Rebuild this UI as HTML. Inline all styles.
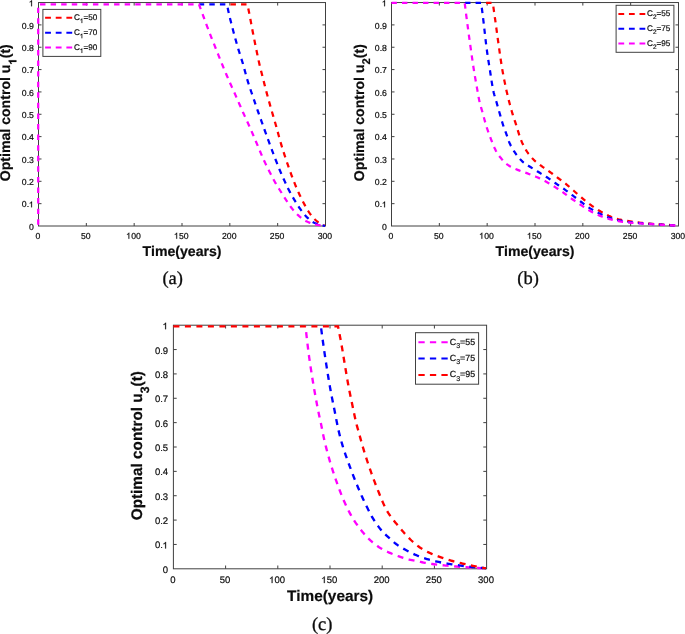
<!DOCTYPE html>
<html><head><meta charset="utf-8"><title>Optimal control</title>
<style>
html,body{margin:0;padding:0;background:#fff;}
body{width:685px;height:634px;overflow:hidden;font-family:"Liberation Sans",sans-serif;}
svg{display:block;font-family:"Liberation Sans",sans-serif;will-change:transform;}
text{stroke:#0c0c0c;stroke-width:0.2px;text-rendering:geometricPrecision;font-kerning:none;}
.cap{font-family:"Liberation Serif",serif;stroke-width:0.3px;}
</style></head><body>
<svg width="685" height="634" viewBox="0 0 685 634">
<rect width="685" height="634" fill="#fff"/>
<rect x="38.5" y="2.55" width="287.0" height="223.45" fill="none" stroke="#404040" stroke-width="1"/>
<text x="35.48" y="238.70" font-size="8.70" font-weight="normal" fill="#0c0c0c">0</text>
<text x="80.89" y="238.70" font-size="8.70" font-weight="normal" fill="#0c0c0c">50</text>
<path d="M696 0H516V1098Q451 1039 345.5 979Q240 920 156 890V1057Q307 1125 420 1221Q533 1318 580 1409H696Z" transform="translate(126.31,238.70) scale(0.00425,-0.00425)" fill="#0c0c0c" stroke="#0c0c0c" stroke-width="47.1"/><text x="131.15" y="238.70" font-size="8.70" font-weight="normal" fill="#0c0c0c">00</text>
<path d="M696 0H516V1098Q451 1039 345.5 979Q240 920 156 890V1057Q307 1125 420 1221Q533 1318 580 1409H696Z" transform="translate(174.14,238.70) scale(0.00425,-0.00425)" fill="#0c0c0c" stroke="#0c0c0c" stroke-width="47.1"/><text x="178.98" y="238.70" font-size="8.70" font-weight="normal" fill="#0c0c0c">50</text>
<text x="221.98" y="238.70" font-size="8.70" font-weight="normal" fill="#0c0c0c">200</text>
<text x="269.81" y="238.70" font-size="8.70" font-weight="normal" fill="#0c0c0c">250</text>
<text x="317.64" y="238.70" font-size="8.70" font-weight="normal" fill="#0c0c0c">300</text>
<text x="29.06" y="229.71" font-size="8.70" font-weight="normal" fill="#0c0c0c">0</text>
<text x="21.81" y="207.37" font-size="8.70" font-weight="normal" fill="#0c0c0c">0.</text><path d="M696 0H516V1098Q451 1039 345.5 979Q240 920 156 890V1057Q307 1125 420 1221Q533 1318 580 1409H696Z" transform="translate(29.06,207.37) scale(0.00425,-0.00425)" fill="#0c0c0c" stroke="#0c0c0c" stroke-width="47.1"/>
<text x="21.81" y="185.02" font-size="8.70" font-weight="normal" fill="#0c0c0c">0.2</text>
<text x="21.81" y="162.68" font-size="8.70" font-weight="normal" fill="#0c0c0c">0.3</text>
<text x="21.81" y="140.33" font-size="8.70" font-weight="normal" fill="#0c0c0c">0.4</text>
<text x="21.81" y="117.99" font-size="8.70" font-weight="normal" fill="#0c0c0c">0.5</text>
<text x="21.81" y="95.64" font-size="8.70" font-weight="normal" fill="#0c0c0c">0.6</text>
<text x="21.81" y="73.30" font-size="8.70" font-weight="normal" fill="#0c0c0c">0.7</text>
<text x="21.81" y="50.95" font-size="8.70" font-weight="normal" fill="#0c0c0c">0.8</text>
<text x="21.81" y="28.61" font-size="8.70" font-weight="normal" fill="#0c0c0c">0.9</text>
<path d="M696 0H516V1098Q451 1039 345.5 979Q240 920 156 890V1057Q307 1125 420 1221Q533 1318 580 1409H696Z" transform="translate(29.06,6.26) scale(0.00425,-0.00425)" fill="#0c0c0c" stroke="#0c0c0c" stroke-width="47.1"/>
<path d="M86.33,226.0 v-3.0 M86.33,2.55 v3.0 M134.17,226.0 v-3.0 M134.17,2.55 v3.0 M182.00,226.0 v-3.0 M182.00,2.55 v3.0 M229.83,226.0 v-3.0 M229.83,2.55 v3.0 M277.67,226.0 v-3.0 M277.67,2.55 v3.0 M38.5,203.66 h3.0 M325.5,203.66 h-3.0 M38.5,181.31 h3.0 M325.5,181.31 h-3.0 M38.5,158.97 h3.0 M325.5,158.97 h-3.0 M38.5,136.62 h3.0 M325.5,136.62 h-3.0 M38.5,114.28 h3.0 M325.5,114.28 h-3.0 M38.5,91.93 h3.0 M325.5,91.93 h-3.0 M38.5,69.59 h3.0 M325.5,69.59 h-3.0 M38.5,47.24 h3.0 M325.5,47.24 h-3.0 M38.5,24.90 h3.0 M325.5,24.90 h-3.0" stroke="#404040" stroke-width="1" fill="none"/>
<path d="M227.00,4.35 L247.40,4.35 L247.71,5.81 L248.02,7.27 L248.33,8.73 L248.63,10.20 L248.93,11.66 L249.23,13.12 L249.52,14.59 L249.80,16.06 L250.08,17.52 L250.35,18.99 L250.63,20.46 L250.90,21.93 L251.16,23.40 L251.43,24.87 L251.71,26.34 L251.98,27.80 L252.26,29.27 L252.54,30.74 L252.83,32.20 L253.11,33.67 L253.40,35.14 L253.69,36.60 L253.98,38.07 L254.28,39.53 L254.57,40.99 L254.87,42.46 L255.16,43.92 L255.46,45.39 L255.76,46.85 L256.06,48.31 L256.37,49.78 L256.67,51.24 L256.97,52.70 L257.27,54.16 L257.57,55.63 L257.88,57.09 L258.19,58.55 L258.51,60.01 L258.83,61.47 L259.16,62.93 L259.49,64.38 L259.83,65.83 L260.18,67.29 L260.53,68.74 L260.89,70.19 L261.26,71.64 L261.63,73.08 L262.00,74.53 L262.37,75.98 L262.74,77.42 L263.11,78.87 L263.48,80.32 L263.85,81.77 L264.21,83.21 L264.58,84.66 L264.95,86.11 L265.32,87.56 L265.69,89.00 L266.06,90.45 L266.44,91.90 L266.82,93.34 L267.21,94.78 L267.60,96.22 L267.99,97.66 L268.39,99.11 L268.79,100.54 L269.19,101.98 L269.59,103.42 L270.00,104.86 L270.40,106.30 L270.81,107.73 L271.22,109.17 L271.63,110.61 L272.04,112.04 L272.46,113.48 L272.87,114.91 L273.29,116.34 L273.72,117.78 L274.14,119.21 L274.56,120.64 L274.98,122.08 L275.40,123.51 L275.81,124.95 L276.22,126.38 L276.63,127.82 L277.02,129.26 L277.41,130.70 L277.80,132.14 L278.19,133.59 L278.57,135.03 L278.96,136.47 L279.35,137.92 L279.75,139.36 L280.15,140.79 L280.56,142.23 L280.98,143.66 L281.41,145.09 L281.84,146.52 L282.28,147.95 L282.73,149.37 L283.18,150.80 L283.64,152.22 L284.10,153.64 L284.56,155.06 L285.03,156.48 L285.50,157.90 L285.97,159.32 L286.44,160.73 L286.92,162.15 L287.40,163.56 L287.88,164.98 L288.36,166.39 L288.85,167.80 L289.34,169.21 L289.84,170.62 L290.35,172.03 L290.86,173.43 L291.37,174.83 L291.90,176.23 L292.43,177.63 L292.96,179.02 L293.50,180.42 L294.05,181.81 L294.60,183.20 L295.16,184.58 L295.72,185.97 L296.30,187.35 L296.88,188.72 L297.48,190.09 L298.08,191.45 L298.69,192.82 L299.31,194.17 L299.94,195.53 L300.58,196.88 L301.24,198.23 L301.90,199.57 L302.58,200.90 L303.27,202.22 L303.97,203.54 L304.68,204.85 L305.40,206.17 L306.13,207.48 L306.88,208.79 L307.65,210.08 L308.44,211.35 L309.26,212.59 L310.11,213.80 L310.99,214.98 L311.93,216.15 L312.91,217.29 L313.92,218.41 L314.97,219.48 L316.05,220.51 L317.16,221.49 L318.33,222.45 L319.55,223.34 L320.82,224.11 L322.15,224.73 L323.54,225.27 L325.00,225.70" stroke="#ff0000" stroke-width="2.25" stroke-dasharray="5.45 5.13" stroke-dashoffset="7.11" fill="none" stroke-linejoin="miter"/>
<path d="M199.00,4.35 L227.00,4.35 L227.28,5.82 L227.57,7.28 L227.87,8.74 L228.17,10.20 L228.48,11.66 L228.80,13.12 L229.13,14.57 L229.46,16.03 L229.81,17.48 L230.16,18.93 L230.52,20.38 L230.88,21.82 L231.25,23.27 L231.62,24.72 L231.99,26.16 L232.37,27.60 L232.75,29.05 L233.13,30.49 L233.51,31.93 L233.90,33.37 L234.28,34.81 L234.67,36.25 L235.07,37.69 L235.47,39.13 L235.87,40.57 L236.27,42.00 L236.68,43.44 L237.09,44.87 L237.50,46.31 L237.92,47.74 L238.35,49.17 L238.78,50.59 L239.23,52.02 L239.68,53.44 L240.14,54.86 L240.59,56.28 L241.05,57.70 L241.50,59.12 L241.95,60.55 L242.39,61.97 L242.82,63.40 L243.24,64.83 L243.65,66.27 L244.04,67.71 L244.43,69.15 L244.81,70.59 L245.19,72.03 L245.58,73.47 L245.96,74.92 L246.35,76.36 L246.76,77.79 L247.17,79.22 L247.60,80.65 L248.04,82.08 L248.49,83.50 L248.95,84.92 L249.42,86.33 L249.89,87.75 L250.37,89.16 L250.84,90.58 L251.32,91.99 L251.80,93.40 L252.28,94.82 L252.75,96.23 L253.23,97.65 L253.71,99.06 L254.19,100.47 L254.68,101.88 L255.16,103.29 L255.65,104.70 L256.13,106.11 L256.62,107.52 L257.11,108.93 L257.60,110.34 L258.10,111.75 L258.59,113.16 L259.09,114.56 L259.59,115.97 L260.08,117.37 L260.58,118.78 L261.09,120.19 L261.59,121.59 L262.09,122.99 L262.60,124.40 L263.10,125.80 L263.61,127.21 L264.11,128.61 L264.62,130.01 L265.12,131.42 L265.63,132.82 L266.13,134.22 L266.64,135.63 L267.15,137.03 L267.66,138.43 L268.17,139.83 L268.68,141.23 L269.20,142.63 L269.72,144.03 L270.23,145.43 L270.75,146.83 L271.28,148.23 L271.80,149.63 L272.32,151.02 L272.85,152.42 L273.37,153.82 L273.90,155.21 L274.43,156.60 L274.97,158.00 L275.50,159.39 L276.04,160.78 L276.59,162.17 L277.13,163.56 L277.68,164.94 L278.24,166.33 L278.79,167.71 L279.36,169.10 L279.93,170.47 L280.51,171.85 L281.09,173.22 L281.69,174.59 L282.29,175.95 L282.90,177.32 L283.51,178.68 L284.13,180.04 L284.75,181.39 L285.37,182.75 L286.00,184.10 L286.63,185.45 L287.27,186.80 L287.92,188.15 L288.58,189.49 L289.25,190.81 L289.95,192.13 L290.66,193.44 L291.38,194.75 L292.12,196.05 L292.86,197.34 L293.62,198.63 L294.38,199.91 L295.16,201.19 L295.93,202.46 L296.72,203.73 L297.52,204.99 L298.33,206.25 L299.16,207.49 L300.02,208.71 L300.89,209.91 L301.77,211.12 L302.68,212.33 L303.60,213.52 L304.55,214.68 L305.53,215.80 L306.55,216.86 L307.62,217.89 L308.73,218.92 L309.88,219.93 L311.08,220.88 L312.31,221.73 L313.58,222.45 L314.88,223.04 L316.21,223.59 L317.59,224.10 L319.00,224.58 L320.44,225.00 L321.92,225.35 L323.44,225.62 L325.00,225.80" stroke="#0000ff" stroke-width="2.25" stroke-dasharray="5.45 5.13" stroke-dashoffset="0.27" fill="none" stroke-linejoin="miter"/>
<path d="M38.20,224.70 L38.20,4.35 L199.00,4.35 L199.51,5.76 L200.02,7.16 L200.53,8.57 L201.05,9.98 L201.56,11.38 L202.08,12.79 L202.59,14.19 L203.11,15.60 L203.63,17.00 L204.15,18.40 L204.67,19.81 L205.19,21.21 L205.71,22.61 L206.23,24.02 L206.75,25.42 L207.27,26.82 L207.80,28.22 L208.33,29.62 L208.86,31.02 L209.39,32.42 L209.93,33.82 L210.47,35.21 L211.02,36.61 L211.57,38.00 L212.13,39.39 L212.68,40.78 L213.24,42.16 L213.80,43.55 L214.37,44.94 L214.93,46.33 L215.48,47.71 L216.04,49.10 L216.60,50.49 L217.15,51.88 L217.70,53.28 L218.25,54.67 L218.81,56.06 L219.36,57.45 L219.91,58.84 L220.47,60.23 L221.03,61.62 L221.59,63.00 L222.16,64.39 L222.73,65.77 L223.30,67.16 L223.87,68.54 L224.45,69.92 L225.02,71.30 L225.60,72.68 L226.19,74.06 L226.77,75.44 L227.36,76.81 L227.95,78.19 L228.55,79.56 L229.15,80.93 L229.76,82.30 L230.37,83.67 L230.98,85.03 L231.59,86.40 L232.21,87.76 L232.82,89.13 L233.44,90.49 L234.05,91.86 L234.66,93.22 L235.26,94.59 L235.86,95.96 L236.46,97.34 L237.06,98.71 L237.66,100.08 L238.25,101.45 L238.85,102.83 L239.44,104.20 L240.04,105.57 L240.64,106.94 L241.24,108.32 L241.84,109.69 L242.45,111.05 L243.06,112.42 L243.67,113.78 L244.29,115.15 L244.92,116.51 L245.54,117.87 L246.17,119.23 L246.79,120.59 L247.42,121.95 L248.04,123.31 L248.66,124.67 L249.27,126.04 L249.88,127.40 L250.48,128.77 L251.08,130.14 L251.67,131.52 L252.26,132.89 L252.85,134.27 L253.43,135.65 L254.01,137.03 L254.59,138.41 L255.18,139.79 L255.76,141.16 L256.35,142.54 L256.94,143.92 L257.52,145.29 L258.11,146.67 L258.69,148.05 L259.27,149.43 L259.85,150.81 L260.43,152.19 L261.02,153.57 L261.60,154.95 L262.20,156.32 L262.79,157.70 L263.40,159.06 L264.01,160.43 L264.63,161.79 L265.26,163.15 L265.90,164.50 L266.55,165.85 L267.21,167.19 L267.88,168.53 L268.56,169.86 L269.24,171.20 L269.92,172.53 L270.60,173.86 L271.28,175.20 L271.96,176.53 L272.65,177.86 L273.35,179.18 L274.06,180.50 L274.79,181.81 L275.53,183.10 L276.30,184.39 L277.07,185.67 L277.86,186.94 L278.65,188.21 L279.45,189.48 L280.24,190.75 L281.03,192.02 L281.82,193.29 L282.61,194.56 L283.41,195.83 L284.21,197.10 L285.02,198.36 L285.84,199.61 L286.66,200.86 L287.48,202.11 L288.31,203.37 L289.15,204.61 L290.00,205.84 L290.88,207.05 L291.79,208.23 L292.72,209.39 L293.69,210.55 L294.67,211.69 L295.69,212.81 L296.73,213.90 L297.80,214.95 L298.90,215.94 L300.03,216.89 L301.20,217.83 L302.41,218.75 L303.66,219.62 L304.93,220.44 L306.23,221.18 L307.55,221.82 L308.90,222.41 L310.30,222.96 L311.72,223.47 L313.17,223.93 L314.63,224.31 L316.08,224.62 L317.54,224.87 L319.01,225.11 L320.49,225.33 L321.99,225.50 L323.49,225.63 L325.00,225.70" stroke="#ff00ff" stroke-width="2.25" stroke-dasharray="5.45 5.13" stroke-dashoffset="0.00" fill="none" stroke-linejoin="miter"/>
<rect x="42.9" y="9.4" width="57.90" height="47.00" fill="#fff" stroke="#404040" stroke-width="1"/>
<path d="M45.1,17.7 H72.2" stroke="#ff0000" stroke-width="2" stroke-dasharray="5.83 4.81" fill="none"/>
<text x="74.10" y="19.90" font-size="8.15" font-weight="normal" fill="#0c0c0c">C</text><path d="M696 0H516V1098Q451 1039 345.5 979Q240 920 156 890V1057Q307 1125 420 1221Q533 1318 580 1409H696Z" transform="translate(79.99,23.08) scale(0.00318,-0.00318)" fill="#0c0c0c" stroke="#0c0c0c" stroke-width="62.8"/><text x="83.61" y="19.90" font-size="8.15" font-weight="normal" fill="#0c0c0c">=50</text>
<path d="M45.1,32.8 H72.2" stroke="#0000ff" stroke-width="2" stroke-dasharray="5.83 4.81" fill="none"/>
<text x="74.10" y="35.00" font-size="8.15" font-weight="normal" fill="#0c0c0c">C</text><path d="M696 0H516V1098Q451 1039 345.5 979Q240 920 156 890V1057Q307 1125 420 1221Q533 1318 580 1409H696Z" transform="translate(79.99,38.18) scale(0.00318,-0.00318)" fill="#0c0c0c" stroke="#0c0c0c" stroke-width="62.8"/><text x="83.61" y="35.00" font-size="8.15" font-weight="normal" fill="#0c0c0c">=70</text>
<path d="M45.1,47.5 H72.2" stroke="#ff00ff" stroke-width="2" stroke-dasharray="5.83 4.81" fill="none"/>
<text x="74.10" y="49.70" font-size="8.15" font-weight="normal" fill="#0c0c0c">C</text><path d="M696 0H516V1098Q451 1039 345.5 979Q240 920 156 890V1057Q307 1125 420 1221Q533 1318 580 1409H696Z" transform="translate(79.99,52.88) scale(0.00318,-0.00318)" fill="#0c0c0c" stroke="#0c0c0c" stroke-width="62.8"/><text x="83.61" y="49.70" font-size="8.15" font-weight="normal" fill="#0c0c0c">=90</text>
<text x="182.00" y="255.9" font-size="14.1" font-weight="bold" text-anchor="middle" fill="#0c0c0c">Time(years)</text>
<g transform="translate(10.2,112.7) rotate(-90)"><text x="-68.54" y="0.00" font-size="14.10" font-weight="bold" fill="#0c0c0c">Optimal control u</text><path d="M759 0H478V1013Q324 876 115 810V1054Q225 1088 354 1184Q483 1280 531 1409H759Z" transform="translate(48.18,6.20) scale(0.00551,-0.00551)" fill="#0c0c0c" stroke="#0c0c0c" stroke-width="36.3"/><text x="54.45" y="0.00" font-size="14.10" font-weight="bold" fill="#0c0c0c">(t)</text></g>
<rect x="391.5" y="2.55" width="287.0" height="223.45" fill="none" stroke="#404040" stroke-width="1"/>
<text x="388.48" y="238.70" font-size="8.70" font-weight="normal" fill="#0c0c0c">0</text>
<text x="433.89" y="238.70" font-size="8.70" font-weight="normal" fill="#0c0c0c">50</text>
<path d="M696 0H516V1098Q451 1039 345.5 979Q240 920 156 890V1057Q307 1125 420 1221Q533 1318 580 1409H696Z" transform="translate(479.31,238.70) scale(0.00425,-0.00425)" fill="#0c0c0c" stroke="#0c0c0c" stroke-width="47.1"/><text x="484.15" y="238.70" font-size="8.70" font-weight="normal" fill="#0c0c0c">00</text>
<path d="M696 0H516V1098Q451 1039 345.5 979Q240 920 156 890V1057Q307 1125 420 1221Q533 1318 580 1409H696Z" transform="translate(527.14,238.70) scale(0.00425,-0.00425)" fill="#0c0c0c" stroke="#0c0c0c" stroke-width="47.1"/><text x="531.98" y="238.70" font-size="8.70" font-weight="normal" fill="#0c0c0c">50</text>
<text x="574.98" y="238.70" font-size="8.70" font-weight="normal" fill="#0c0c0c">200</text>
<text x="622.81" y="238.70" font-size="8.70" font-weight="normal" fill="#0c0c0c">250</text>
<text x="670.64" y="238.70" font-size="8.70" font-weight="normal" fill="#0c0c0c">300</text>
<text x="382.06" y="229.71" font-size="8.70" font-weight="normal" fill="#0c0c0c">0</text>
<text x="374.81" y="207.37" font-size="8.70" font-weight="normal" fill="#0c0c0c">0.</text><path d="M696 0H516V1098Q451 1039 345.5 979Q240 920 156 890V1057Q307 1125 420 1221Q533 1318 580 1409H696Z" transform="translate(382.06,207.37) scale(0.00425,-0.00425)" fill="#0c0c0c" stroke="#0c0c0c" stroke-width="47.1"/>
<text x="374.81" y="185.02" font-size="8.70" font-weight="normal" fill="#0c0c0c">0.2</text>
<text x="374.81" y="162.68" font-size="8.70" font-weight="normal" fill="#0c0c0c">0.3</text>
<text x="374.81" y="140.33" font-size="8.70" font-weight="normal" fill="#0c0c0c">0.4</text>
<text x="374.81" y="117.99" font-size="8.70" font-weight="normal" fill="#0c0c0c">0.5</text>
<text x="374.81" y="95.64" font-size="8.70" font-weight="normal" fill="#0c0c0c">0.6</text>
<text x="374.81" y="73.30" font-size="8.70" font-weight="normal" fill="#0c0c0c">0.7</text>
<text x="374.81" y="50.95" font-size="8.70" font-weight="normal" fill="#0c0c0c">0.8</text>
<text x="374.81" y="28.61" font-size="8.70" font-weight="normal" fill="#0c0c0c">0.9</text>
<path d="M696 0H516V1098Q451 1039 345.5 979Q240 920 156 890V1057Q307 1125 420 1221Q533 1318 580 1409H696Z" transform="translate(382.06,6.26) scale(0.00425,-0.00425)" fill="#0c0c0c" stroke="#0c0c0c" stroke-width="47.1"/>
<path d="M439.33,226.0 v-3.0 M439.33,2.55 v3.0 M487.17,226.0 v-3.0 M487.17,2.55 v3.0 M535.00,226.0 v-3.0 M535.00,2.55 v3.0 M582.83,226.0 v-3.0 M582.83,2.55 v3.0 M630.67,226.0 v-3.0 M630.67,2.55 v3.0 M391.5,203.66 h3.0 M678.5,203.66 h-3.0 M391.5,181.31 h3.0 M678.5,181.31 h-3.0 M391.5,158.97 h3.0 M678.5,158.97 h-3.0 M391.5,136.62 h3.0 M678.5,136.62 h-3.0 M391.5,114.28 h3.0 M678.5,114.28 h-3.0 M391.5,91.93 h3.0 M678.5,91.93 h-3.0 M391.5,69.59 h3.0 M678.5,69.59 h-3.0 M391.5,47.24 h3.0 M678.5,47.24 h-3.0 M391.5,24.90 h3.0 M678.5,24.90 h-3.0" stroke="#404040" stroke-width="1" fill="none"/>
<path d="M481.20,2.90 L492.80,2.90 L493.01,4.38 L493.23,5.87 L493.44,7.35 L493.65,8.83 L493.86,10.31 L494.07,11.80 L494.28,13.28 L494.49,14.76 L494.70,16.25 L494.91,17.73 L495.12,19.21 L495.32,20.70 L495.53,22.18 L495.74,23.66 L495.95,25.15 L496.15,26.63 L496.35,28.11 L496.55,29.60 L496.75,31.08 L496.95,32.57 L497.15,34.05 L497.35,35.54 L497.55,37.02 L497.75,38.51 L497.96,39.99 L498.16,41.47 L498.36,42.96 L498.57,44.44 L498.78,45.93 L498.99,47.41 L499.20,48.89 L499.41,50.37 L499.62,51.86 L499.83,53.34 L500.05,54.82 L500.26,56.31 L500.47,57.79 L500.69,59.27 L500.91,60.75 L501.13,62.24 L501.36,63.72 L501.59,65.20 L501.83,66.68 L502.07,68.15 L502.32,69.63 L502.57,71.10 L502.84,72.58 L503.11,74.05 L503.38,75.52 L503.66,76.99 L503.95,78.47 L504.24,79.94 L504.53,81.40 L504.84,82.87 L505.14,84.34 L505.45,85.81 L505.76,87.27 L506.08,88.73 L506.40,90.20 L506.72,91.66 L507.05,93.12 L507.39,94.58 L507.74,96.04 L508.09,97.49 L508.45,98.95 L508.82,100.40 L509.19,101.85 L509.57,103.30 L509.95,104.75 L510.34,106.20 L510.74,107.64 L511.14,109.08 L511.55,110.53 L511.96,111.96 L512.39,113.40 L512.83,114.83 L513.29,116.26 L513.75,117.68 L514.23,119.10 L514.71,120.52 L515.19,121.94 L515.66,123.36 L516.12,124.79 L516.57,126.21 L517.01,127.65 L517.43,129.09 L517.85,130.52 L518.30,131.95 L518.74,133.39 L519.19,134.82 L519.65,136.25 L520.13,137.67 L520.64,139.07 L521.19,140.46 L521.77,141.84 L522.38,143.21 L523.03,144.58 L523.70,145.92 L524.41,147.25 L525.14,148.56 L525.90,149.83 L526.69,151.09 L527.53,152.33 L528.41,153.56 L529.32,154.77 L530.27,155.95 L531.24,157.09 L532.24,158.20 L533.26,159.27 L534.33,160.30 L535.44,161.29 L536.59,162.25 L537.77,163.19 L538.97,164.12 L540.17,165.03 L541.38,165.93 L542.57,166.83 L543.79,167.70 L545.02,168.56 L546.25,169.40 L547.49,170.25 L548.73,171.10 L549.95,171.96 L551.16,172.85 L552.36,173.74 L553.56,174.64 L554.75,175.54 L555.95,176.45 L557.14,177.35 L558.34,178.25 L559.54,179.14 L560.75,180.03 L561.96,180.92 L563.17,181.81 L564.36,182.71 L565.54,183.63 L566.70,184.57 L567.84,185.54 L568.97,186.52 L570.10,187.52 L571.21,188.52 L572.33,189.52 L573.45,190.51 L574.57,191.50 L575.70,192.50 L576.82,193.49 L577.94,194.48 L579.06,195.48 L580.19,196.46 L581.33,197.43 L582.47,198.40 L583.63,199.35 L584.78,200.30 L585.95,201.25 L587.12,202.18 L588.30,203.11 L589.49,204.02 L590.69,204.91 L591.89,205.81 L593.10,206.69 L594.33,207.56 L595.56,208.42 L596.81,209.24 L598.07,210.04 L599.35,210.81 L600.64,211.57 L601.95,212.30 L603.28,213.01 L604.61,213.70 L605.94,214.37 L607.29,215.04 L608.63,215.72 L609.99,216.37 L611.36,216.99 L612.74,217.56 L614.14,218.05 L615.57,218.48 L617.01,218.87 L618.47,219.24 L619.94,219.57 L621.41,219.88 L622.88,220.17 L624.35,220.43 L625.82,220.68 L627.31,220.92 L628.79,221.14 L630.27,221.36 L631.76,221.57 L633.24,221.77 L634.72,221.98 L636.21,222.18 L637.69,222.38 L639.18,222.57 L640.67,222.76 L642.15,222.94 L643.64,223.11 L645.13,223.26 L646.62,223.41 L648.11,223.54 L649.60,223.67 L651.10,223.78 L652.59,223.89 L654.09,223.99 L655.58,224.08 L657.08,224.18 L658.57,224.28 L660.07,224.38 L661.56,224.48 L663.06,224.58 L664.55,224.69 L666.04,224.79 L667.54,224.89 L669.03,224.99 L670.53,225.10 L672.02,225.20 L673.52,225.30 L675.01,225.40 L676.51,225.50 L678.00,225.60" stroke="#ff0000" stroke-width="2.25" stroke-dasharray="5.4 5.11" stroke-dashoffset="5.62" fill="none" stroke-linejoin="miter"/>
<path d="M464.70,2.90 L481.20,2.90 L481.39,4.38 L481.57,5.86 L481.76,7.35 L481.94,8.83 L482.12,10.31 L482.31,11.80 L482.49,13.28 L482.67,14.76 L482.85,16.24 L483.03,17.73 L483.21,19.21 L483.39,20.69 L483.57,22.18 L483.75,23.66 L483.92,25.14 L484.10,26.63 L484.27,28.11 L484.43,29.60 L484.60,31.08 L484.77,32.57 L484.93,34.05 L485.10,35.54 L485.26,37.02 L485.43,38.51 L485.60,39.99 L485.77,41.48 L485.94,42.96 L486.12,44.44 L486.31,45.92 L486.50,47.41 L486.69,48.89 L486.89,50.37 L487.10,51.85 L487.31,53.33 L487.52,54.80 L487.74,56.28 L487.96,57.76 L488.19,59.24 L488.42,60.71 L488.65,62.19 L488.88,63.67 L489.11,65.14 L489.35,66.62 L489.58,68.09 L489.82,69.57 L490.05,71.04 L490.28,72.52 L490.51,74.00 L490.73,75.48 L490.96,76.96 L491.18,78.44 L491.41,79.92 L491.64,81.40 L491.88,82.87 L492.13,84.35 L492.39,85.82 L492.65,87.29 L492.93,88.75 L493.22,90.22 L493.53,91.67 L493.86,93.12 L494.23,94.56 L494.64,96.00 L495.07,97.44 L495.50,98.87 L495.94,100.30 L496.37,101.73 L496.78,103.17 L497.18,104.61 L497.59,106.05 L498.00,107.48 L498.40,108.92 L498.81,110.36 L499.22,111.80 L499.64,113.23 L500.05,114.67 L500.46,116.11 L500.86,117.54 L501.27,118.98 L501.68,120.42 L502.11,121.85 L502.54,123.28 L502.98,124.71 L503.44,126.13 L503.93,127.54 L504.45,128.94 L504.98,130.33 L505.52,131.73 L506.05,133.13 L506.55,134.54 L507.03,135.96 L507.51,137.39 L507.99,138.81 L508.48,140.22 L509.00,141.62 L509.56,143.00 L510.16,144.34 L510.81,145.68 L511.51,147.00 L512.26,148.30 L513.03,149.59 L513.84,150.87 L514.68,152.11 L515.53,153.34 L516.39,154.54 L517.29,155.74 L518.22,156.93 L519.19,158.09 L520.19,159.23 L521.22,160.32 L522.28,161.35 L523.37,162.32 L524.53,163.22 L525.74,164.08 L527.00,164.90 L528.28,165.70 L529.57,166.49 L530.85,167.28 L532.12,168.08 L533.38,168.88 L534.64,169.68 L535.91,170.47 L537.18,171.25 L538.45,172.04 L539.72,172.83 L540.99,173.62 L542.27,174.40 L543.54,175.18 L544.81,175.97 L546.08,176.76 L547.33,177.56 L548.58,178.39 L549.81,179.23 L551.04,180.09 L552.25,180.95 L553.47,181.82 L554.69,182.69 L555.92,183.54 L557.15,184.38 L558.39,185.21 L559.64,186.04 L560.88,186.86 L562.12,187.70 L563.35,188.54 L564.57,189.41 L565.78,190.29 L566.97,191.18 L568.17,192.09 L569.35,192.99 L570.54,193.90 L571.73,194.80 L572.93,195.70 L574.12,196.59 L575.32,197.49 L576.51,198.39 L577.71,199.28 L578.90,200.18 L580.10,201.08 L581.29,201.98 L582.47,202.91 L583.65,203.83 L584.83,204.74 L586.03,205.63 L587.25,206.50 L588.49,207.31 L589.75,208.10 L591.04,208.86 L592.34,209.61 L593.65,210.33 L594.96,211.04 L596.28,211.75 L597.60,212.45 L598.92,213.15 L600.26,213.84 L601.60,214.50 L602.95,215.13 L604.31,215.73 L605.69,216.31 L607.08,216.87 L608.47,217.41 L609.88,217.92 L611.30,218.39 L612.73,218.81 L614.16,219.22 L615.61,219.60 L617.06,219.96 L618.52,220.30 L619.98,220.61 L621.45,220.90 L622.92,221.16 L624.39,221.40 L625.87,221.63 L627.35,221.84 L628.83,222.03 L630.32,222.21 L631.80,222.38 L633.29,222.53 L634.77,222.68 L636.26,222.81 L637.75,222.94 L639.24,223.06 L640.73,223.18 L642.22,223.30 L643.71,223.41 L645.20,223.52 L646.69,223.63 L648.18,223.74 L649.67,223.86 L651.16,223.97 L652.65,224.07 L654.14,224.18 L655.63,224.28 L657.12,224.39 L658.61,224.48 L660.10,224.58 L661.59,224.67 L663.08,224.77 L664.57,224.86 L666.07,224.95 L667.56,225.04 L669.05,225.12 L670.54,225.21 L672.03,225.29 L673.52,225.37 L675.02,225.45 L676.51,225.53 L678.00,225.60" stroke="#0000ff" stroke-width="2.25" stroke-dasharray="5.4 5.11" stroke-dashoffset="10.14" fill="none" stroke-linejoin="miter"/>
<path d="M391.50,2.90 L464.70,2.90 L464.88,4.39 L465.07,5.87 L465.25,7.36 L465.44,8.85 L465.62,10.33 L465.81,11.82 L466.00,13.30 L466.19,14.79 L466.38,16.28 L466.57,17.76 L466.77,19.25 L466.96,20.73 L467.15,22.22 L467.35,23.70 L467.54,25.19 L467.74,26.67 L467.94,28.16 L468.14,29.64 L468.34,31.13 L468.54,32.61 L468.74,34.10 L468.94,35.58 L469.15,37.07 L469.35,38.55 L469.56,40.03 L469.76,41.52 L469.97,43.00 L470.18,44.48 L470.39,45.97 L470.59,47.45 L470.80,48.93 L471.01,50.42 L471.22,51.90 L471.43,53.38 L471.64,54.87 L471.85,56.35 L472.06,57.83 L472.28,59.32 L472.49,60.80 L472.71,62.28 L472.93,63.76 L473.15,65.24 L473.37,66.73 L473.60,68.21 L473.83,69.69 L474.07,71.16 L474.31,72.64 L474.55,74.12 L474.80,75.60 L475.05,77.07 L475.30,78.55 L475.56,80.03 L475.82,81.50 L476.08,82.98 L476.34,84.45 L476.61,85.93 L476.87,87.40 L477.14,88.88 L477.40,90.35 L477.67,91.83 L477.93,93.30 L478.19,94.78 L478.45,96.25 L478.72,97.73 L479.00,99.20 L479.31,100.66 L479.63,102.12 L479.99,103.57 L480.38,105.02 L480.78,106.46 L481.20,107.90 L481.62,109.34 L482.04,110.78 L482.45,112.22 L482.86,113.67 L483.25,115.11 L483.64,116.56 L484.03,118.01 L484.42,119.46 L484.82,120.90 L485.22,122.34 L485.64,123.78 L486.06,125.22 L486.51,126.64 L486.97,128.07 L487.44,129.49 L487.92,130.91 L488.42,132.33 L488.92,133.74 L489.44,135.15 L489.96,136.55 L490.50,137.95 L491.04,139.35 L491.59,140.74 L492.15,142.13 L492.71,143.53 L493.27,144.92 L493.85,146.32 L494.45,147.70 L495.08,149.06 L495.73,150.41 L496.41,151.73 L497.14,153.01 L497.95,154.28 L498.83,155.50 L499.75,156.69 L500.70,157.84 L501.67,159.00 L502.68,160.14 L503.72,161.26 L504.79,162.33 L505.90,163.35 L507.04,164.29 L508.21,165.15 L509.44,165.93 L510.73,166.67 L512.07,167.36 L513.44,168.02 L514.82,168.64 L516.22,169.25 L517.61,169.84 L518.99,170.40 L520.38,170.93 L521.80,171.43 L523.21,171.92 L524.64,172.40 L526.06,172.89 L527.47,173.40 L528.87,173.93 L530.27,174.46 L531.67,175.00 L533.07,175.54 L534.46,176.10 L535.84,176.67 L537.22,177.26 L538.59,177.86 L539.94,178.50 L541.29,179.15 L542.63,179.82 L543.97,180.51 L545.29,181.21 L546.60,181.93 L547.90,182.67 L549.19,183.43 L550.47,184.21 L551.75,185.00 L553.02,185.79 L554.29,186.58 L555.56,187.38 L556.83,188.18 L558.09,188.99 L559.35,189.81 L560.59,190.64 L561.83,191.48 L563.05,192.35 L564.25,193.24 L565.44,194.15 L566.63,195.07 L567.82,195.98 L569.01,196.88 L570.23,197.76 L571.45,198.62 L572.69,199.46 L573.94,200.29 L575.19,201.12 L576.43,201.95 L577.68,202.78 L578.92,203.63 L580.15,204.48 L581.39,205.33 L582.62,206.18 L583.86,207.02 L585.11,207.84 L586.38,208.64 L587.66,209.42 L588.94,210.19 L590.24,210.95 L591.54,211.69 L592.86,212.41 L594.18,213.09 L595.52,213.76 L596.88,214.41 L598.24,215.04 L599.62,215.64 L601.00,216.21 L602.39,216.75 L603.80,217.26 L605.22,217.75 L606.64,218.22 L608.08,218.66 L609.52,219.07 L610.96,219.45 L612.42,219.82 L613.87,220.18 L615.34,220.51 L616.81,220.83 L618.28,221.11 L619.75,221.36 L621.23,221.58 L622.71,221.79 L624.20,221.98 L625.68,222.16 L627.17,222.33 L628.67,222.48 L630.16,222.63 L631.65,222.77 L633.14,222.90 L634.63,223.02 L636.13,223.14 L637.62,223.24 L639.12,223.35 L640.61,223.45 L642.11,223.55 L643.60,223.64 L645.10,223.74 L646.59,223.83 L648.09,223.93 L649.58,224.03 L651.08,224.13 L652.57,224.22 L654.07,224.32 L655.56,224.41 L657.06,224.50 L658.55,224.59 L660.05,224.68 L661.54,224.76 L663.04,224.85 L664.53,224.93 L666.03,225.01 L667.53,225.09 L669.02,225.17 L670.52,225.24 L672.01,225.32 L673.51,225.39 L675.01,225.46 L676.50,225.53 L678.00,225.60" stroke="#ff00ff" stroke-width="2.25" stroke-dasharray="5.4 5.11" stroke-dashoffset="0.00" fill="none" stroke-linejoin="miter"/>
<rect x="616.1" y="5.3" width="57.80" height="47.00" fill="#fff" stroke="#404040" stroke-width="1"/>
<path d="M618.4,14.0 H645.3" stroke="#ff0000" stroke-width="2" stroke-dasharray="5.78 4.77" fill="none"/>
<text x="647.00" y="16.20" font-size="8.15" font-weight="normal" fill="#0c0c0c">C</text><text x="652.89" y="19.38" font-size="6.52" font-weight="normal" fill="#0c0c0c">2</text><text x="656.51" y="16.20" font-size="8.15" font-weight="normal" fill="#0c0c0c">=55</text>
<path d="M618.4,28.7 H645.3" stroke="#0000ff" stroke-width="2" stroke-dasharray="5.78 4.77" fill="none"/>
<text x="647.00" y="30.90" font-size="8.15" font-weight="normal" fill="#0c0c0c">C</text><text x="652.89" y="34.08" font-size="6.52" font-weight="normal" fill="#0c0c0c">2</text><text x="656.51" y="30.90" font-size="8.15" font-weight="normal" fill="#0c0c0c">=75</text>
<path d="M618.4,43.6 H645.3" stroke="#ff00ff" stroke-width="2" stroke-dasharray="5.78 4.77" fill="none"/>
<text x="647.00" y="45.80" font-size="8.15" font-weight="normal" fill="#0c0c0c">C</text><text x="652.89" y="48.98" font-size="6.52" font-weight="normal" fill="#0c0c0c">2</text><text x="656.51" y="45.80" font-size="8.15" font-weight="normal" fill="#0c0c0c">=95</text>
<text x="535.00" y="255.75" font-size="14.1" font-weight="bold" text-anchor="middle" fill="#0c0c0c">Time(years)</text>
<g transform="translate(363.5,112.6) rotate(-90)"><text x="-68.54" y="0.00" font-size="14.10" font-weight="bold" fill="#0c0c0c">Optimal control u</text><text x="48.18" y="6.20" font-size="11.28" font-weight="bold" fill="#0c0c0c">2</text><text x="54.45" y="0.00" font-size="14.10" font-weight="bold" fill="#0c0c0c">(t)</text></g>
<rect x="173.4" y="325.2" width="313.20000000000005" height="243.59999999999997" fill="none" stroke="#404040" stroke-width="1"/>
<text x="170.16" y="583.10" font-size="9.50" font-weight="normal" fill="#0c0c0c">0</text>
<text x="219.72" y="583.10" font-size="9.50" font-weight="normal" fill="#0c0c0c">50</text>
<path d="M696 0H516V1098Q451 1039 345.5 979Q240 920 156 890V1057Q307 1125 420 1221Q533 1318 580 1409H696Z" transform="translate(269.27,583.10) scale(0.00464,-0.00464)" fill="#0c0c0c" stroke="#0c0c0c" stroke-width="43.1"/><text x="274.56" y="583.10" font-size="9.50" font-weight="normal" fill="#0c0c0c">00</text>
<path d="M696 0H516V1098Q451 1039 345.5 979Q240 920 156 890V1057Q307 1125 420 1221Q533 1318 580 1409H696Z" transform="translate(321.47,583.10) scale(0.00464,-0.00464)" fill="#0c0c0c" stroke="#0c0c0c" stroke-width="43.1"/><text x="326.76" y="583.10" font-size="9.50" font-weight="normal" fill="#0c0c0c">50</text>
<text x="373.67" y="583.10" font-size="9.50" font-weight="normal" fill="#0c0c0c">200</text>
<text x="425.87" y="583.10" font-size="9.50" font-weight="normal" fill="#0c0c0c">250</text>
<text x="478.07" y="583.10" font-size="9.50" font-weight="normal" fill="#0c0c0c">300</text>
<text x="162.82" y="572.80" font-size="9.50" font-weight="normal" fill="#0c0c0c">0</text>
<text x="154.89" y="548.44" font-size="9.50" font-weight="normal" fill="#0c0c0c">0.</text><path d="M696 0H516V1098Q451 1039 345.5 979Q240 920 156 890V1057Q307 1125 420 1221Q533 1318 580 1409H696Z" transform="translate(162.82,548.44) scale(0.00464,-0.00464)" fill="#0c0c0c" stroke="#0c0c0c" stroke-width="43.1"/>
<text x="154.89" y="524.08" font-size="9.50" font-weight="normal" fill="#0c0c0c">0.2</text>
<text x="154.89" y="499.72" font-size="9.50" font-weight="normal" fill="#0c0c0c">0.3</text>
<text x="154.89" y="475.36" font-size="9.50" font-weight="normal" fill="#0c0c0c">0.4</text>
<text x="154.89" y="451.00" font-size="9.50" font-weight="normal" fill="#0c0c0c">0.5</text>
<text x="154.89" y="426.64" font-size="9.50" font-weight="normal" fill="#0c0c0c">0.6</text>
<text x="154.89" y="402.28" font-size="9.50" font-weight="normal" fill="#0c0c0c">0.7</text>
<text x="154.89" y="377.92" font-size="9.50" font-weight="normal" fill="#0c0c0c">0.8</text>
<text x="154.89" y="353.56" font-size="9.50" font-weight="normal" fill="#0c0c0c">0.9</text>
<path d="M696 0H516V1098Q451 1039 345.5 979Q240 920 156 890V1057Q307 1125 420 1221Q533 1318 580 1409H696Z" transform="translate(162.82,329.20) scale(0.00464,-0.00464)" fill="#0c0c0c" stroke="#0c0c0c" stroke-width="43.1"/>
<path d="M225.60,568.8 v-3.3 M225.60,325.2 v3.3 M277.80,568.8 v-3.3 M277.80,325.2 v3.3 M330.00,568.8 v-3.3 M330.00,325.2 v3.3 M382.20,568.8 v-3.3 M382.20,325.2 v3.3 M434.40,568.8 v-3.3 M434.40,325.2 v3.3 M173.4,544.44 h3.3 M486.6,544.44 h-3.3 M173.4,520.08 h3.3 M486.6,520.08 h-3.3 M173.4,495.72 h3.3 M486.6,495.72 h-3.3 M173.4,471.36 h3.3 M486.6,471.36 h-3.3 M173.4,447.00 h3.3 M486.6,447.00 h-3.3 M173.4,422.64 h3.3 M486.6,422.64 h-3.3 M173.4,398.28 h3.3 M486.6,398.28 h-3.3 M173.4,373.92 h3.3 M486.6,373.92 h-3.3 M173.4,349.56 h3.3 M486.6,349.56 h-3.3" stroke="#404040" stroke-width="1" fill="none"/>
<path d="M305.60,326.40 L305.60,326.40 L305.74,327.89 L305.89,329.38 L306.04,330.86 L306.19,332.35 L306.34,333.84 L306.50,335.32 L306.67,336.81 L306.83,338.30 L307.00,339.78 L307.17,341.27 L307.34,342.75 L307.52,344.23 L307.69,345.72 L307.87,347.20 L308.06,348.68 L308.24,350.17 L308.43,351.65 L308.62,353.13 L308.81,354.61 L309.01,356.09 L309.22,357.57 L309.43,359.05 L309.64,360.53 L309.85,362.01 L310.07,363.49 L310.29,364.97 L310.52,366.45 L310.74,367.92 L310.97,369.40 L311.20,370.88 L311.43,372.35 L311.66,373.83 L311.89,375.31 L312.12,376.78 L312.36,378.26 L312.60,379.73 L312.84,381.21 L313.09,382.68 L313.33,384.16 L313.58,385.63 L313.83,387.10 L314.09,388.58 L314.34,390.05 L314.60,391.52 L314.86,392.99 L315.12,394.46 L315.38,395.93 L315.65,397.41 L315.92,398.88 L316.19,400.35 L316.46,401.81 L316.74,403.28 L317.02,404.75 L317.30,406.22 L317.58,407.69 L317.87,409.15 L318.16,410.62 L318.46,412.08 L318.76,413.55 L319.07,415.01 L319.39,416.47 L319.71,417.93 L320.03,419.39 L320.35,420.85 L320.67,422.31 L320.98,423.77 L321.29,425.23 L321.60,426.69 L321.89,428.16 L322.18,429.63 L322.46,431.09 L322.74,432.56 L323.03,434.03 L323.33,435.49 L323.65,436.95 L323.97,438.41 L324.30,439.87 L324.63,441.33 L324.97,442.78 L325.32,444.24 L325.67,445.69 L326.03,447.14 L326.40,448.59 L326.78,450.03 L327.16,451.48 L327.54,452.92 L327.93,454.37 L328.33,455.81 L328.73,457.25 L329.14,458.69 L329.55,460.12 L329.97,461.56 L330.40,462.99 L330.82,464.42 L331.26,465.85 L331.70,467.28 L332.15,468.70 L332.60,470.13 L333.06,471.55 L333.53,472.97 L334.00,474.39 L334.48,475.80 L334.97,477.22 L335.45,478.63 L335.95,480.04 L336.45,481.45 L336.95,482.86 L337.45,484.26 L337.96,485.67 L338.48,487.07 L338.99,488.48 L339.52,489.88 L340.05,491.28 L340.58,492.68 L341.13,494.07 L341.68,495.46 L342.24,496.84 L342.81,498.22 L343.39,499.60 L343.98,500.97 L344.59,502.33 L345.20,503.69 L345.83,505.05 L346.46,506.41 L347.11,507.77 L347.77,509.11 L348.44,510.45 L349.12,511.79 L349.82,513.11 L350.53,514.42 L351.26,515.72 L352.00,517.01 L352.77,518.28 L353.55,519.55 L354.36,520.81 L355.18,522.06 L356.03,523.30 L356.89,524.53 L357.77,525.75 L358.66,526.96 L359.56,528.15 L360.47,529.33 L361.39,530.49 L362.33,531.66 L363.28,532.82 L364.25,533.97 L365.23,535.11 L366.23,536.24 L367.25,537.34 L368.29,538.42 L369.35,539.47 L370.43,540.48 L371.53,541.46 L372.66,542.43 L373.82,543.37 L375.00,544.30 L376.21,545.20 L377.44,546.08 L378.68,546.93 L379.94,547.75 L381.20,548.53 L382.48,549.28 L383.78,549.99 L385.11,550.68 L386.45,551.34 L387.81,551.97 L389.18,552.59 L390.56,553.19 L391.94,553.77 L393.32,554.34 L394.71,554.89 L396.10,555.42 L397.51,555.93 L398.92,556.43 L400.33,556.91 L401.75,557.40 L403.17,557.87 L404.59,558.33 L406.02,558.76 L407.46,559.16 L408.91,559.52 L410.36,559.85 L411.83,560.16 L413.29,560.46 L414.76,560.75 L416.23,561.05 L417.69,561.35 L419.15,561.66 L420.62,561.96 L422.08,562.25 L423.55,562.54 L425.02,562.80 L426.49,563.06 L427.96,563.31 L429.44,563.55 L430.92,563.79 L432.39,564.01 L433.87,564.23 L435.35,564.43 L436.84,564.62 L438.32,564.79 L439.80,564.96 L441.29,565.12 L442.78,565.27 L444.27,565.41 L445.75,565.55 L447.24,565.69 L448.73,565.83 L450.22,565.97 L451.71,566.10 L453.20,566.23 L454.68,566.36 L456.17,566.49 L457.66,566.61 L459.15,566.73 L460.64,566.84 L462.13,566.95 L463.62,567.06 L465.11,567.16 L466.61,567.26 L468.10,567.36 L469.59,567.46 L471.08,567.56 L472.57,567.65 L474.06,567.74 L475.55,567.83 L477.05,567.92 L478.54,568.00 L480.03,568.09 L481.52,568.17 L483.01,568.25 L484.51,568.32 L486.00,568.40" stroke="#ff00ff" stroke-width="2.35" stroke-dasharray="6.0 5.5" stroke-dashoffset="5.70" fill="none" stroke-linejoin="miter"/>
<path d="M320.90,326.40 L320.90,326.40 L321.09,327.88 L321.28,329.37 L321.48,330.85 L321.67,332.34 L321.87,333.82 L322.07,335.30 L322.27,336.79 L322.47,338.27 L322.67,339.75 L322.88,341.23 L323.08,342.72 L323.29,344.20 L323.50,345.68 L323.71,347.16 L323.92,348.64 L324.13,350.13 L324.35,351.61 L324.56,353.09 L324.78,354.57 L325.00,356.05 L325.22,357.53 L325.44,359.01 L325.67,360.49 L325.89,361.97 L326.12,363.45 L326.35,364.93 L326.58,366.40 L326.81,367.88 L327.05,369.36 L327.28,370.84 L327.52,372.32 L327.76,373.79 L328.00,375.27 L328.24,376.75 L328.48,378.23 L328.73,379.70 L328.98,381.18 L329.23,382.65 L329.48,384.13 L329.73,385.60 L329.99,387.08 L330.25,388.55 L330.51,390.02 L330.78,391.50 L331.05,392.97 L331.33,394.44 L331.61,395.91 L331.90,397.38 L332.19,398.85 L332.48,400.31 L332.77,401.78 L333.07,403.25 L333.37,404.71 L333.66,406.18 L333.96,407.65 L334.26,409.11 L334.56,410.58 L334.85,412.05 L335.14,413.52 L335.43,414.99 L335.71,416.46 L335.99,417.93 L336.28,419.40 L336.56,420.87 L336.85,422.34 L337.14,423.81 L337.44,425.27 L337.75,426.74 L338.06,428.20 L338.38,429.66 L338.71,431.12 L339.05,432.57 L339.41,434.03 L339.77,435.48 L340.14,436.93 L340.53,438.38 L340.92,439.82 L341.32,441.27 L341.73,442.71 L342.15,444.14 L342.57,445.58 L343.00,447.01 L343.44,448.44 L343.90,449.86 L344.36,451.28 L344.84,452.70 L345.32,454.12 L345.82,455.53 L346.32,456.94 L346.82,458.35 L347.33,459.76 L347.85,461.17 L348.36,462.57 L348.88,463.98 L349.40,465.38 L349.92,466.79 L350.44,468.19 L350.96,469.59 L351.49,470.99 L352.02,472.39 L352.55,473.79 L353.08,475.19 L353.62,476.59 L354.17,477.98 L354.72,479.37 L355.27,480.76 L355.83,482.15 L356.40,483.54 L356.97,484.92 L357.54,486.30 L358.12,487.68 L358.71,489.06 L359.30,490.43 L359.89,491.81 L360.49,493.18 L361.10,494.55 L361.71,495.92 L362.33,497.28 L362.95,498.64 L363.58,500.00 L364.22,501.35 L364.86,502.70 L365.50,504.05 L366.15,505.41 L366.80,506.76 L367.45,508.11 L368.12,509.46 L368.79,510.80 L369.47,512.14 L370.16,513.47 L370.87,514.79 L371.59,516.09 L372.33,517.38 L373.10,518.66 L373.88,519.93 L374.69,521.19 L375.51,522.45 L376.36,523.69 L377.22,524.93 L378.11,526.15 L379.01,527.35 L379.93,528.53 L380.88,529.68 L381.84,530.81 L382.83,531.91 L383.87,532.98 L384.94,534.02 L386.04,535.05 L387.15,536.06 L388.28,537.06 L389.40,538.06 L390.51,539.06 L391.62,540.08 L392.72,541.09 L393.84,542.10 L394.98,543.08 L396.13,544.02 L397.32,544.91 L398.54,545.76 L399.79,546.57 L401.07,547.36 L402.36,548.12 L403.67,548.87 L404.99,549.59 L406.30,550.31 L407.62,551.02 L408.94,551.71 L410.28,552.40 L411.62,553.07 L412.97,553.72 L414.33,554.34 L415.70,554.95 L417.07,555.52 L418.46,556.08 L419.86,556.62 L421.26,557.15 L422.68,557.65 L424.09,558.14 L425.52,558.60 L426.94,559.03 L428.38,559.45 L429.82,559.86 L431.27,560.25 L432.72,560.63 L434.17,560.99 L435.63,561.33 L437.09,561.66 L438.55,561.97 L440.02,562.27 L441.48,562.56 L442.96,562.83 L444.43,563.09 L445.91,563.34 L447.38,563.59 L448.86,563.83 L450.34,564.07 L451.82,564.30 L453.30,564.53 L454.78,564.75 L456.26,564.97 L457.74,565.18 L459.22,565.38 L460.71,565.58 L462.19,565.77 L463.67,565.96 L465.16,566.14 L466.65,566.32 L468.13,566.49 L469.62,566.66 L471.11,566.82 L472.60,566.99 L474.08,567.14 L475.57,567.30 L477.06,567.45 L478.55,567.60 L480.04,567.75 L481.53,567.89 L483.02,568.03 L484.51,568.17 L486.00,568.30" stroke="#0000ff" stroke-width="2.35" stroke-dasharray="6.0 5.5" stroke-dashoffset="9.50" fill="none" stroke-linejoin="miter"/>
<path d="M173.40,326.40 L338.00,326.40 L338.30,327.86 L338.59,329.33 L338.89,330.79 L339.18,332.26 L339.47,333.73 L339.75,335.19 L340.03,336.66 L340.31,338.13 L340.59,339.59 L340.86,341.06 L341.13,342.53 L341.39,344.00 L341.65,345.47 L341.91,346.95 L342.16,348.42 L342.40,349.89 L342.65,351.36 L342.89,352.84 L343.14,354.31 L343.38,355.79 L343.62,357.26 L343.86,358.74 L344.10,360.21 L344.35,361.68 L344.59,363.16 L344.84,364.63 L345.08,366.10 L345.33,367.58 L345.57,369.05 L345.81,370.53 L346.05,372.00 L346.29,373.48 L346.54,374.95 L346.78,376.42 L347.03,377.90 L347.28,379.37 L347.54,380.84 L347.80,382.31 L348.06,383.78 L348.33,385.25 L348.60,386.72 L348.88,388.19 L349.17,389.65 L349.46,391.12 L349.75,392.58 L350.05,394.05 L350.35,395.51 L350.66,396.97 L350.96,398.44 L351.27,399.90 L351.58,401.36 L351.88,402.82 L352.19,404.28 L352.50,405.75 L352.80,407.21 L353.11,408.67 L353.41,410.14 L353.71,411.60 L354.02,413.06 L354.33,414.52 L354.64,415.99 L354.96,417.45 L355.28,418.90 L355.61,420.36 L355.95,421.81 L356.30,423.27 L356.65,424.72 L357.03,426.16 L357.43,427.60 L357.84,429.04 L358.25,430.47 L358.65,431.91 L359.05,433.35 L359.44,434.79 L359.84,436.24 L360.23,437.68 L360.63,439.12 L361.02,440.56 L361.42,442.00 L361.83,443.44 L362.23,444.87 L362.65,446.31 L363.07,447.74 L363.50,449.17 L363.93,450.60 L364.37,452.03 L364.81,453.46 L365.26,454.88 L365.71,456.30 L366.17,457.73 L366.63,459.15 L367.10,460.57 L367.56,461.99 L368.03,463.40 L368.51,464.82 L368.99,466.23 L369.48,467.65 L369.97,469.06 L370.46,470.47 L370.96,471.88 L371.46,473.28 L371.97,474.69 L372.48,476.09 L373.00,477.49 L373.52,478.90 L374.04,480.30 L374.56,481.69 L375.09,483.09 L375.63,484.49 L376.16,485.88 L376.71,487.27 L377.25,488.66 L377.81,490.05 L378.36,491.44 L378.93,492.82 L379.49,494.20 L380.05,495.59 L380.62,496.98 L381.18,498.37 L381.75,499.76 L382.33,501.15 L382.91,502.52 L383.52,503.89 L384.14,505.25 L384.78,506.59 L385.44,507.92 L386.13,509.23 L386.85,510.53 L387.61,511.81 L388.40,513.09 L389.22,514.34 L390.06,515.59 L390.92,516.82 L391.79,518.03 L392.67,519.23 L393.59,520.41 L394.54,521.56 L395.51,522.70 L396.48,523.84 L397.45,524.98 L398.41,526.13 L399.36,527.28 L400.31,528.43 L401.27,529.58 L402.24,530.72 L403.22,531.85 L404.20,532.96 L405.21,534.07 L406.22,535.17 L407.24,536.26 L408.27,537.35 L409.32,538.42 L410.38,539.47 L411.46,540.50 L412.56,541.50 L413.68,542.50 L414.81,543.48 L415.96,544.45 L417.12,545.40 L418.31,546.32 L419.51,547.19 L420.74,548.02 L421.99,548.82 L423.26,549.59 L424.56,550.33 L425.88,551.05 L427.22,551.74 L428.56,552.41 L429.91,553.05 L431.27,553.66 L432.64,554.25 L434.02,554.81 L435.41,555.36 L436.82,555.88 L438.22,556.39 L439.64,556.89 L441.05,557.38 L442.46,557.87 L443.87,558.35 L445.29,558.82 L446.72,559.28 L448.14,559.73 L449.57,560.16 L451.00,560.59 L452.44,561.00 L453.88,561.40 L455.32,561.78 L456.77,562.15 L458.22,562.51 L459.67,562.87 L461.12,563.21 L462.58,563.55 L464.03,563.89 L465.49,564.23 L466.95,564.56 L468.40,564.88 L469.86,565.20 L471.33,565.51 L472.79,565.81 L474.25,566.11 L475.72,566.40 L477.18,566.69 L478.65,566.97 L480.12,567.25 L481.59,567.52 L483.06,567.79 L484.53,568.05 L486.00,568.30" stroke="#ff0000" stroke-width="2.35" stroke-dasharray="6.0 5.5" stroke-dashoffset="0.00" fill="none" stroke-linejoin="miter"/>
<rect x="415.5" y="332.7" width="63.10" height="51.50" fill="#fff" stroke="#404040" stroke-width="1"/>
<path d="M418.4,342.3 H447.7" stroke="#ff00ff" stroke-width="2" stroke-dasharray="6.30 5.20" fill="none"/>
<text x="449.70" y="344.70" font-size="8.90" font-weight="normal" fill="#0c0c0c">C</text><text x="456.13" y="348.17" font-size="7.12" font-weight="normal" fill="#0c0c0c">3</text><text x="460.09" y="344.70" font-size="8.90" font-weight="normal" fill="#0c0c0c">=55</text>
<path d="M418.4,358.6 H447.7" stroke="#0000ff" stroke-width="2" stroke-dasharray="6.30 5.20" fill="none"/>
<text x="449.70" y="361.00" font-size="8.90" font-weight="normal" fill="#0c0c0c">C</text><text x="456.13" y="364.47" font-size="7.12" font-weight="normal" fill="#0c0c0c">3</text><text x="460.09" y="361.00" font-size="8.90" font-weight="normal" fill="#0c0c0c">=75</text>
<path d="M418.4,375.0 H447.7" stroke="#ff0000" stroke-width="2" stroke-dasharray="6.30 5.20" fill="none"/>
<text x="449.70" y="377.40" font-size="8.90" font-weight="normal" fill="#0c0c0c">C</text><text x="456.13" y="380.87" font-size="7.12" font-weight="normal" fill="#0c0c0c">3</text><text x="460.09" y="377.40" font-size="8.90" font-weight="normal" fill="#0c0c0c">=95</text>
<text x="330.00" y="601.2" font-size="15.35" font-weight="bold" text-anchor="middle" fill="#0c0c0c">Time(years)</text>
<g transform="translate(142.2,445.7) rotate(-90)"><text x="-74.61" y="0.00" font-size="15.35" font-weight="bold" fill="#0c0c0c">Optimal control u</text><text x="52.45" y="6.75" font-size="12.28" font-weight="bold" fill="#0c0c0c">3</text><text x="59.28" y="0.00" font-size="15.35" font-weight="bold" fill="#0c0c0c">(t)</text></g>
<text x="172.7" y="284.3" font-size="18.5" text-anchor="middle" fill="#0c0c0c" class="cap">(a)</text>
<text x="528.1" y="284.4" font-size="18.5" text-anchor="middle" fill="#0c0c0c" class="cap">(b)</text>
<text x="322.2" y="630.1" font-size="18.5" text-anchor="middle" fill="#0c0c0c" class="cap">(c)</text>
</svg>
</body></html>
